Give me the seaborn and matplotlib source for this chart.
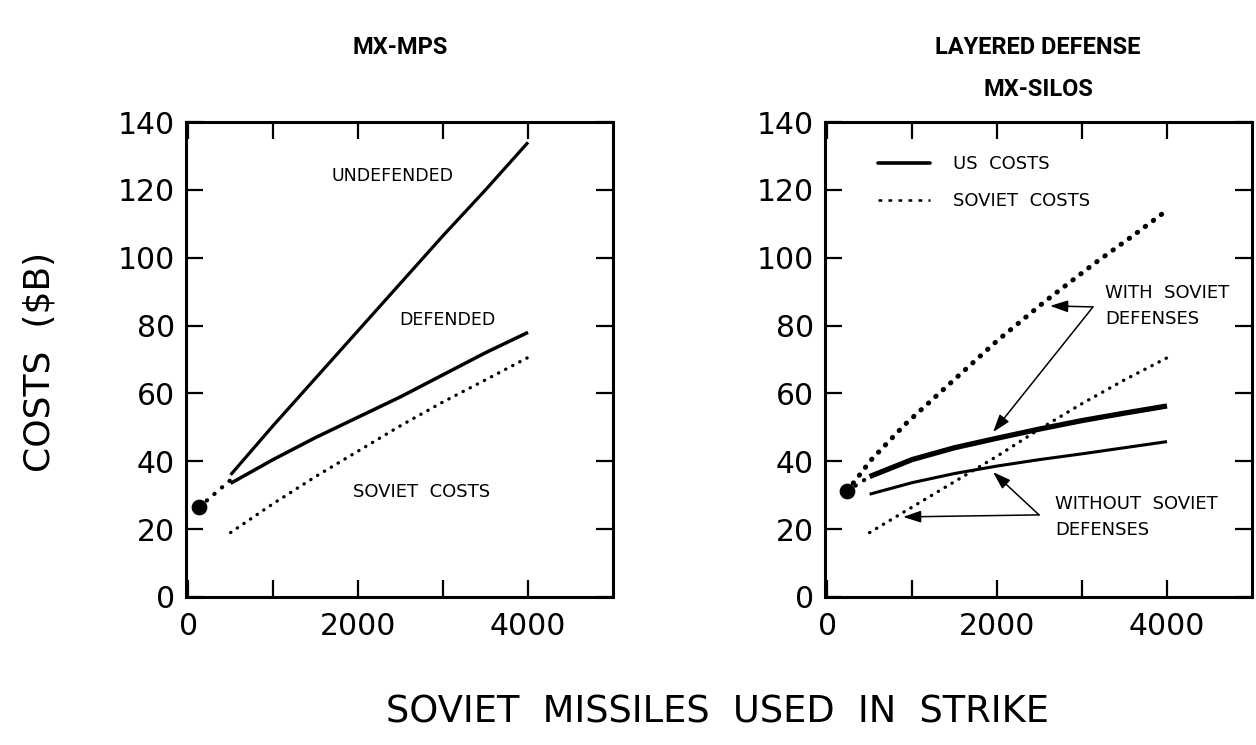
import matplotlib
matplotlib.use("Agg")
import matplotlib.pyplot as plt
import seaborn as sns
from matplotlib.lines import Line2D

sns.set_theme(style="ticks")
plt.rcParams['font.family'] = ['DejaVu Sans']
plt.rcParams['text.color'] = 'black'
plt.rcParams['axes.labelcolor'] = 'black'
plt.rcParams['xtick.color'] = 'black'
plt.rcParams['ytick.color'] = 'black'

# ---------------- data ----------------
# Left panel: MX-MPS
mps_x = [500, 1000, 1500, 2000, 2500, 3000, 3500, 4000]
mps_undefended = [36, 50.5, 64.5, 78.5, 92.5, 106.5, 120, 134]
mps_defended = [33.5, 40.5, 47, 53, 59, 65.5, 72, 78]
mps_soviet = [19, 27.5, 35.5, 43, 50.5, 57.5, 64, 70.6]
mps_start_x = [130, 500]
mps_start_y = [26.5, 34.5]

# Right panel: Layered defense MX-silos
sil_x = [500, 1000, 1500, 2000, 2500, 3000, 3500, 4000]
sil_us_with = [35.5, 40.5, 44, 46.8, 49.5, 52, 54.2, 56.3]
sil_us_without = [30.3, 33.7, 36.4, 38.6, 40.5, 42.2, 44, 45.8]
sil_sov_without = [19, 26.5, 34, 41.5, 49.5, 57, 64, 70.5]
sil_sov_with_x = [235, 518, 910, 1537, 2000, 2557, 3145, 3600, 4000]
sil_sov_with = [31.2, 40.4, 50.7, 65, 75.5, 87, 98.3, 106.5, 114]
sil_start_x = [235, 500]
sil_start_y = [31.2, 35.5]

x_ticks = [0, 1000, 2000, 3000, 4000]
x_tick_labels = ['0', '', '2000', '', '4000']
y_ticks = [0, 20, 40, 60, 80, 100, 120, 140]

W, H = 1256, 745
fig = plt.figure(figsize=(W / 100, H / 100), dpi=100)
fig.patch.set_facecolor('white')

axL = fig.add_axes([186 / W, 1 - 597 / H, 427 / W, 475 / H])
axR = fig.add_axes([825 / W, 1 - 597 / H, 427 / W, 475 / H])

dotted = (0, (0.1, 2.3))
title_font = ['Roboto', 'DejaVu Sans']


def line(ax, x, y, lw, ls='-'):
    sns.lineplot(x=x, y=y, ax=ax, estimator=None, sort=False, color='black',
                 linewidth=lw, linestyle=ls, dash_capstyle='round',
                 solid_capstyle='butt')


for ax in (axL, axR):
    ax.set_facecolor('white')
    ax.set_xlim(-25, 5000)
    ax.set_ylim(0, 140)
    ax.set_xticks(x_ticks)
    ax.set_xticklabels(x_tick_labels)
    ax.set_yticks(y_ticks)
    ax.tick_params(direction='in', top=True, right=True, length=12, width=1.6,
                   labelsize=21.5, color='black', labelcolor='black')
    ax.tick_params(axis='x', pad=11)
    ax.tick_params(axis='y', pad=8)
    for s in ax.spines.values():
        s.set_visible(True)
        s.set_linewidth(2.2)
        s.set_color('black')
    ax.set_xlabel('')
    ax.set_ylabel('')

# ---- left panel ----
line(axL, mps_x, mps_undefended, 2.3)
line(axL, mps_x, mps_defended, 2.5)
line(axL, mps_x, mps_soviet, 2.4, dotted)
line(axL, mps_start_x, mps_start_y, 3.0, dotted)
sns.scatterplot(x=[mps_start_x[0]], y=[mps_start_y[0]], ax=axL, s=110,
                color='black', edgecolor='black', zorder=5)
axL.text(2400, 124, 'UNDEFENDED', ha='center', va='center', fontsize=12.5)
axL.text(3050, 81.6, 'DEFENDED', ha='center', va='center', fontsize=12.5)
axL.text(2750, 30.9, 'SOVIET  COSTS', ha='center', va='center', fontsize=13)

# ---- right panel ----
line(axR, sil_x, sil_us_with, 3.8)
line(axR, sil_x, sil_us_without, 2.2)
line(axR, sil_x, sil_sov_without, 2.4, dotted)
line(axR, sil_sov_with_x, sil_sov_with, 3.6, (0, (0.1, 1.9)))
line(axR, sil_start_x, sil_start_y, 3.0, dotted)
sns.scatterplot(x=[sil_start_x[0]], y=[sil_start_y[0]], ax=axR, s=110,
                color='black', edgecolor='black', zorder=5)

handles = [Line2D([], [], color='black', lw=2.6),
           Line2D([], [], color='black', lw=1.8, ls=(0, (1.5, 2.5)))]
leg = axR.legend(handles, ['US  COSTS', 'SOVIET  COSTS'], loc='upper left',
                 bbox_to_anchor=(0.085, 0.965), frameon=False, fontsize=13,
                 handlelength=2.9, handletextpad=1.3, labelspacing=1.05)

arrow = dict(arrowstyle='-|>,head_length=0.9,head_width=0.3', color='black',
             lw=1.1, shrinkA=0, shrinkB=0)
axR.text(3270, 85.8, 'WITH  SOVIET\nDEFENSES', ha='left', va='center',
         fontsize=13, linespacing=1.6)
axR.annotate('', xy=(2624, 85.8), xytext=(3129, 85.5), arrowprops=arrow)
axR.annotate('', xy=(1953, 48.6), xytext=(3129, 85.5), arrowprops=arrow)
axR.text(2680, 23.6, 'WITHOUT  SOVIET\nDEFENSES', ha='left', va='center',
         fontsize=13, linespacing=1.6)
axR.annotate('', xy=(894, 23.6), xytext=(2494, 24.2), arrowprops=arrow)
axR.annotate('', xy=(1953, 36.8), xytext=(2494, 24.2), arrowprops=arrow)

# ---- figure texts ----
fig.text(400 / W, 1 - 47 / H, 'MX-MPS', ha='center', va='center', fontsize=17,
         family=title_font, fontweight='bold')
fig.text(1038 / W, 1 - 47 / H, 'LAYERED DEFENSE', ha='center', va='center',
         fontsize=17, family=title_font, fontweight='bold')
fig.text(1038 / W, 1 - 90 / H, 'MX-SILOS', ha='center', va='center', fontsize=17,
         family=title_font, fontweight='bold')
fig.text(40 / W, 1 - 362 / H, 'COSTS  ($B)', ha='center', va='center',
         rotation=90, fontsize=26)
fig.text(718 / W, 1 - 712 / H, 'SOVIET  MISSILES  USED  IN  STRIKE',
         ha='center', va='center', fontsize=26.5)

fig.savefig('out.png', dpi=100, facecolor='white')
